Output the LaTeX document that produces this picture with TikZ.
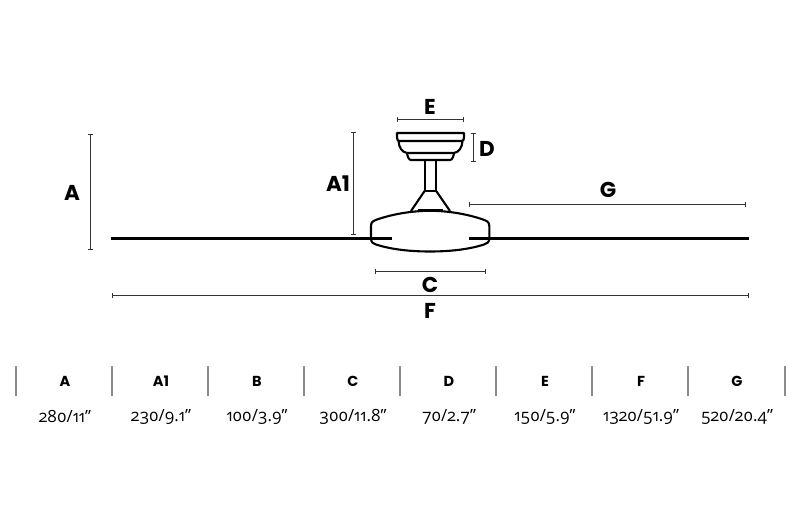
\documentclass[tikz,border=0pt]{standalone}
\usepackage{fontspec}
\setmainfont{Poppins}
\newfontfamily\valfont[Numbers=OldStyle]{Open Sans}
\usetikzlibrary{arrows.meta}
\tikzset{
  dimline/.style={draw=black!80,line width=1pt,{Bar[width=5pt,line width=1pt]}-{Bar[width=5pt,line width=1pt]}},
  fanline/.style={draw=black,line width=2.1pt,line join=round},
  bladeline/.style={draw=black,line width=3pt},
  biglabel/.style={font=\bfseries\fontsize{21.5}{21.5}\selectfont,inner sep=0pt},
  headlabel/.style={font=\bfseries\fontsize{14.5}{14.5}\selectfont,inner sep=0pt},
  vallabel/.style={font=\valfont\fontsize{16.8}{16.8}\selectfont,inner sep=0pt},
  sepline/.style={draw=black!45,line width=1.2pt}
}
\begin{document}
\begin{tikzpicture}[x=1pt,y=-1pt]
\useasboundingbox[fill=white] (0,0) rectangle (800,511);
% coordinates
\coordinate (aT) at (90.7,134); \coordinate (aB) at (90.7,250);
\coordinate (a1T) at (353.7,132); \coordinate (a1B) at (353.7,235);
\coordinate (eL) at (396.5,119); \coordinate (eR) at (464,119);
\coordinate (dT) at (473,133); \coordinate (dB) at (473,161.5);
\coordinate (gL) at (469,204); \coordinate (gR) at (746,204);
\coordinate (cL) at (375,271); \coordinate (cR) at (486,271);
\coordinate (fL) at (112,295); \coordinate (fR) at (749,295);
\coordinate (blL1) at (111,238.5); \coordinate (blL2) at (392,238.5);
\coordinate (blR1) at (469,238.5); \coordinate (blR2) at (749,238.5);
% dimensions
\draw[dimline] (aT) -- (aB);
\draw[dimline] (a1T) -- (a1B);
\draw[dimline] (eL) -- (eR);
\draw[dimline] (dT) -- (dB);
\draw[dimline] (gL) -- (gR);
\draw[dimline] (cL) -- (cR);
\draw[dimline] (fL) -- (fR);
% blades
\draw[bladeline] (blL1) -- (blL2);
\draw[bladeline] (blR1) -- (blR2);
% canopy
\draw[fanline] (397,133) -- (464,133) -- (464,137) .. controls (464,139) and (463.5,141) .. (462,141) -- (399,141) .. controls (397.5,141) and (397,139) .. (397,137) -- cycle;
\draw[fanline] (398.5,141) .. controls (399,148) and (402,152) .. (407,153) -- (454,153) .. controls (459,152) and (462,148) .. (462.5,141);
\draw[fanline] (407,153) .. controls (407.5,157) and (409,160) .. (411,160) -- (450,160) .. controls (452,160) and (453.5,157) .. (454,153);
% rod and cone
\draw[fanline] (424.8,160) -- (424.8,190.7) -- (436,190.7) -- (436,160);
\draw[fanline] (424.8,190.7) -- (411,211);
\draw[fanline] (436,190.7) -- (450,211);
\draw[draw=black,line width=3pt] (418,210) -- (443,210);
% motor
\draw[fanline] (371,240) -- (371,226) .. controls (371,222) and (373,221) .. (377,219.5) .. controls (393,214) and (412,210.8) .. (430,210.8) .. controls (448,210.8) and (467,214) .. (483,219.5) .. controls (487,221) and (489.3,222) .. (489.3,226) -- (489.3,240);
\draw[fanline] (371,240) .. controls (371,242) and (373,243.5) .. (376,244.5) .. controls (393,250) and (413,251.5) .. (430,251.5) .. controls (447,251.5) and (467,250) .. (484,244.5) .. controls (487,243.5) and (489.3,242) .. (489.3,240);
% labels
\node[biglabel] (la) at (72,192.5) {A};
\node[biglabel] (la1) at (338,183.5) {A1};
\node[biglabel] (le) at (430,107) {E};
\node[biglabel] (ld) at (487,148.5) {D};
\node[biglabel] (lg) at (608,189.5) {G};
\node[biglabel] (lc) at (430,285) {C};
\node[biglabel] (lf) at (430,311) {F};
% table
\foreach \x in {16,112,208,304,400,496,592,688,785}
  \draw[sepline] (\x,366) -- (\x,396);
\foreach \x/\h/\v/\n in {65/A/280\slash 11/a,161/A1/230\slash 9.1/b,257/B/100\slash 3.9/c,353/C/300\slash 11.8/d,449/D/70\slash 2.7/e,545/E/150\slash 5.9/f,641/F/1320\slash 51.9/g,737/G/520\slash 20.4/h}{
  \node[headlabel] (h\n) at (\x,381) {\h};
  \node[vallabel] (v\n) at (\x,416.5) {\v”};
}
\end{tikzpicture}
\end{document}
